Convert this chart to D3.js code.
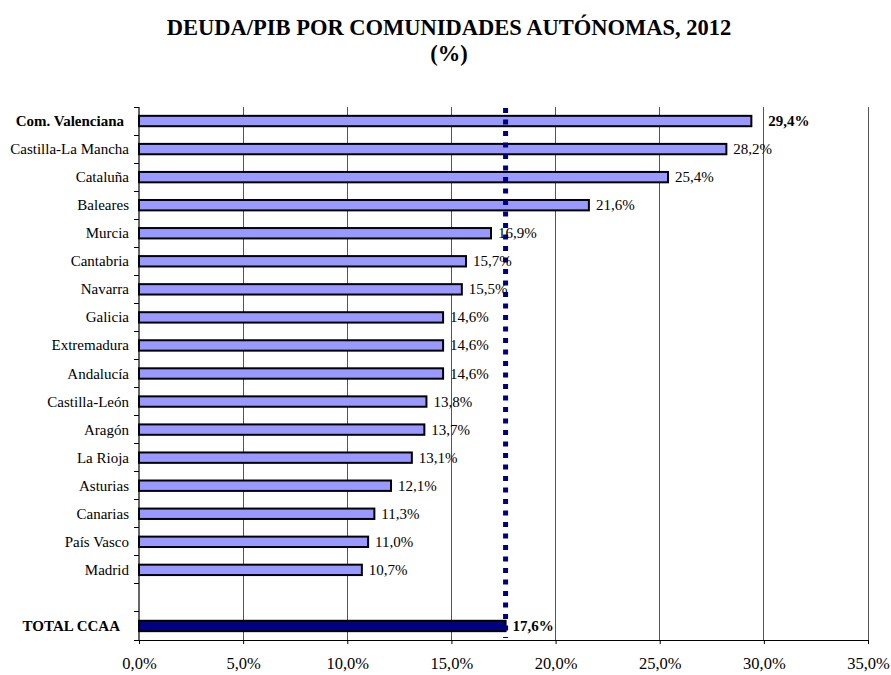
<!DOCTYPE html>
<html>
<head>
<meta charset="utf-8">
<script src="https://cdn.jsdelivr.net/npm/d3@7"></script>
<style>
  html, body { margin: 0; padding: 0; background: #fff; }
  svg { display: block; font-family: "Liberation Serif", "Times New Roman", serif; }
</style>
</head>
<body>
<svg id="chart" width="891" height="675"></svg>
<script>
// Debt / GDP by autonomous community, 2012 (%)
const regions = [
  "Com. Valenciana", "Castilla-La Mancha", "Cataluña", "Baleares", "Murcia",
  "Cantabria", "Navarra", "Galicia", "Extremadura", "Andalucía ",
  "Castilla-León", "Aragón", "La Rioja", "Asturias", "Canarias",
  "País Vasco", "Madrid"
];
const regionValues = [
  29.4, 28.2, 25.4, 21.6, 16.9,
  15.7, 15.5, 14.6, 14.6, 14.6,
  13.8, 13.7, 13.1, 12.1, 11.3,
  11.0, 10.7
];
const totalLabel = "TOTAL CCAA";
const totalValue = 17.6;
const xTicks = [0, 5, 10, 15, 20, 25, 30, 35];
const titleLines = ["DEUDA/PIB POR COMUNIDADES AUTÓNOMAS, 2012", "(%)"];

(function () {
  // Rows: regions, one empty spacer slot, then the total
  const gapKey = "";
  const categories = [...regions, gapKey, totalLabel];
  const rows = regions.map((r, i) => ({ name: r, value: regionValues[i], total: false }))
    .concat([{ name: totalLabel, value: totalValue, total: true }]);

  const svg = d3.select("#chart");
  const plotLeft = 139, plotRight = 868, plotTop = 107, plotBottom = 640;
  const serif = "Liberation Serif, Times New Roman, serif";

  const x = d3.scaleLinear().domain([0, 35]).range([plotLeft, plotRight]);
  const y = d3.scaleBand().domain(categories).range([plotTop, plotBottom]).paddingInner(0).paddingOuter(0);
  const fmt = v => d3.format(".1f")(v).replace(".", ",") + "%";

  // Title
  svg.append("g").selectAll("text").data(titleLines).join("text")
    .attr("x", 449)
    .attr("y", (d, i) => 35 + i * 26)
    .attr("text-anchor", "middle")
    .attr("font-weight", "bold")
    .attr("font-size", 22.5)
    .attr("fill", "#000")
    .text(d => d);

  // Vertical gridlines
  svg.append("g").selectAll("line").data(xTicks.slice(1)).join("line")
    .attr("x1", d => x(d)).attr("x2", d => x(d))
    .attr("y1", plotTop).attr("y2", plotBottom)
    .attr("stroke", "#555").attr("stroke-width", 1)
    .attr("shape-rendering", "crispEdges");

  // X axis
  const xAxis = d3.axisBottom(x)
    .tickValues(xTicks)
    .tickFormat(fmt)
    .tickSize(4)
    .tickSizeOuter(0);
  const gx = svg.append("g").attr("transform", `translate(0,${plotBottom})`).call(xAxis);
  gx.select(".domain").attr("stroke", "#000").attr("stroke-width", 1.2);
  gx.selectAll(".tick line").attr("stroke", "#000");
  gx.selectAll(".tick text")
    .attr("font-family", serif)
    .attr("font-size", 16.5)
    .attr("fill", "#000")
    .attr("y", 29)
    .attr("dy", 0);

  // Y axis line and boundary ticks
  svg.append("line")
    .attr("x1", plotLeft).attr("x2", plotLeft).attr("y1", plotTop).attr("y2", plotBottom)
    .attr("stroke", "#000").attr("stroke-width", 1.2);
  const boundaries = categories.map(c => y(c) + y.bandwidth()).concat([plotTop]);
  svg.append("g").selectAll("line").data(boundaries).join("line")
    .attr("x1", plotLeft - 5).attr("x2", plotLeft)
    .attr("y1", d => d).attr("y2", d => d)
    .attr("stroke", "#000").attr("stroke-width", 1)
    .attr("shape-rendering", "crispEdges");

  // Bars
  const barH = y.bandwidth() * 0.37;
  svg.append("g").selectAll("rect").data(rows).join("rect")
    .attr("x", x(0))
    .attr("y", d => y(d.name) + (y.bandwidth() - barH) / 2)
    .attr("width", d => x(d.value) - x(0))
    .attr("height", barH)
    .attr("fill", d => d.total ? "#000080" : "#9999ff")
    .attr("stroke", "#000")
    .attr("stroke-width", 2);

  const isBold = d => d.total || d.name === regions[0];

  // Category labels
  svg.append("g").selectAll("text").data(rows).join("text")
    .attr("x", d => d.total ? 120 : (d.name === regions[0] ? 124 : 129))
    .attr("y", d => y(d.name) + y.bandwidth() / 2 + 5)
    .attr("text-anchor", "end")
    .attr("font-size", 15)
    .attr("font-weight", d => isBold(d) ? "bold" : "normal")
    .attr("fill", "#000")
    .text(d => d.name);

  // Reference line at the total value
  svg.append("line")
    .attr("x1", x(totalValue)).attr("x2", x(totalValue))
    .attr("y1", plotTop + 1).attr("y2", plotBottom - 2)
    .attr("stroke", "#000080")
    .attr("stroke-width", 5)
    .attr("stroke-dasharray", "5,6.5");

  // Value labels
  svg.append("g").selectAll("text").data(rows).join("text")
    .attr("x", d => x(d.value) + (d.name === regions[0] ? 17 : 7))
    .attr("y", d => y(d.name) + y.bandwidth() / 2 + 5)
    .attr("font-size", 15)
    .attr("font-weight", d => isBold(d) ? "bold" : "normal")
    .attr("fill", "#000")
    .text(d => fmt(d.value));
})();
</script>
</body>
</html>
